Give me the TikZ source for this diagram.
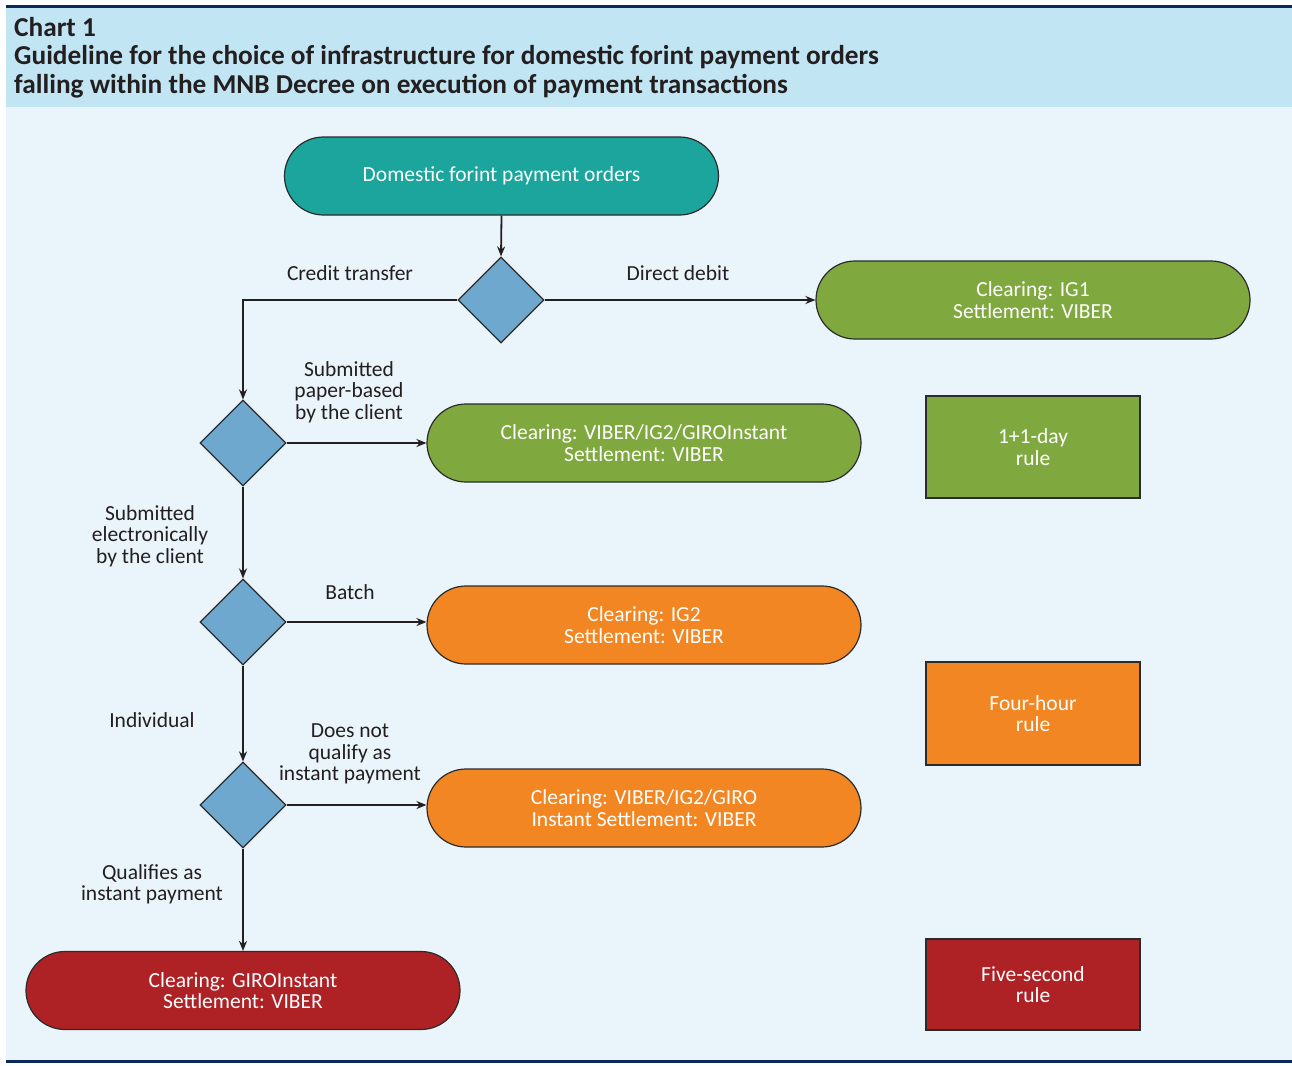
\documentclass[tikz,border=0pt]{standalone}
\usepackage{fontspec}
\setmainfont{Carlito}
\usetikzlibrary{shapes.geometric,arrows.meta}
\definecolor{headbg}{HTML}{C2E5F3}
\definecolor{bodybg}{HTML}{EAF4FB}
\definecolor{navy}{HTML}{0B2A5B}
\definecolor{tealc}{HTML}{1BA59C}
\definecolor{greenc}{HTML}{7FA83F}
\definecolor{orangec}{HTML}{F28622}
\definecolor{redc}{HTML}{AE2125}
\definecolor{diablue}{HTML}{6FA8CF}
\definecolor{txtgray}{HTML}{231F20}
\definecolor{edgec}{HTML}{2B2B2B}
\tikzset{
  basefont/.style={font=\fontsize{21.5}{21.3}\selectfont},
  pill/.style={draw=edgec, line width=1.2pt, rounded corners=39pt, minimum width=434pt,
    minimum height=78pt, text=white, align=center, basefont, inner sep=0pt},
  dia/.style={diamond, draw=edgec, fill=diablue, line width=1.2pt, minimum width=86pt,
    minimum height=86pt, inner sep=0pt},
  rulebox/.style={draw=edgec, line width=1.2pt, minimum width=214pt, text=white,
    align=center, basefont, inner sep=0pt},
  lbl/.style={text=txtgray, align=center, basefont, inner sep=0pt},
  arr/.style={-{Stealth[length=10pt,width=8pt]}, line width=1.8pt, draw=txtgray},
  head/.style={anchor=base west, text=txtgray, font=\fontsize{27.3}{28}\selectfont\bfseries, inner sep=0pt}
}
\begin{document}
\begin{tikzpicture}[x=1pt,y=-1pt]
\useasboundingbox (0,0) rectangle (1292,1065);
\fill[white] (0,0) rectangle (1292,1065);
\fill[bodybg] (6,107) rectangle (1292,1061);
\fill[headbg] (6,8) rectangle (1292,107);
\fill[navy] (6,5) rectangle (1292,8);
\fill[navy] (6,1060) rectangle (1292,1063);
\node[head] (h1) at (14,37) {Chart 1};
\node[head] (h2) at (14,65) {Guideline for the choice of infrastructure for domestic forint payment orders};
\node[head] (h3) at (14,93) {falling within the MNB Decree on execution of payment transactions};

% main nodes
\node[pill, fill=tealc] (top) at (501.5,176) {Domestic forint payment orders};
\node[dia] (d1) at (501,300) {};
\node[pill, fill=greenc] (g1) at (1033,300) {Clearing: IG1\\Settlement: VIBER};
\node[dia] (d2) at (243,443) {};
\node[pill, fill=greenc] (g2) at (644,443) {Clearing: VIBER/IG2/GIROInstant\\Settlement: VIBER};
\node[dia] (d3) at (243,622) {};
\node[pill, fill=orangec] (o1) at (644,625) {Clearing: IG2\\Settlement: VIBER};
\node[dia] (d4) at (243,805) {};
\node[pill, fill=orangec] (o2) at (644,808) {Clearing: VIBER/IG2/GIRO\\Instant Settlement: VIBER};
\node[pill, fill=redc] (r1) at (243,990.5) {Clearing: GIROInstant\\Settlement: VIBER};

% rule boxes
\node[rulebox, fill=greenc, minimum height=102pt] (rb1) at (1033,447) {1+1-day\\rule};
\node[rulebox, fill=orangec, minimum height=103pt] (rb2) at (1033,713.5) {Four-hour\\rule};
\node[rulebox, fill=redc, minimum height=91pt] (rb3) at (1033,984.5) {Five-second\\rule};

% connectors
\draw[arr] (top.south) -- (d1.north);
\draw[arr] (d1.east) -- (g1.west);
\draw[arr] (d1.west) -| (d2.north);
\draw[arr] (d2.east) -- (g2.west |- d2.east);
\draw[arr] (d2.south) -- (d3.north);
\draw[arr] (d3.east) -- (o1.west |- d3.east);
\draw[arr] (d3.south) -- (d4.north);
\draw[arr] (d4.east) -- (o2.west |- d4.east);
\draw[arr] (d4.south) -- (r1.north);

% labels
\node[lbl] (l1) at (350,273) {Credit transfer};
\node[lbl] (l2) at (678,273) {Direct debit};
\node[lbl] (l3) at (349,392) {Submitted\\paper-based\\by the client};
\node[lbl] (l4) at (150,536) {Submitted\\electronically\\by the client};
\node[lbl] (l5) at (350,592) {Batch};
\node[lbl] (l6) at (152,720) {Individual};
\node[lbl] (l7) at (350,754) {Does not\\qualify as\\instant payment};
\node[lbl] (l8) at (152,884) {Qualifies as\\instant payment};
\end{tikzpicture}
\end{document}
